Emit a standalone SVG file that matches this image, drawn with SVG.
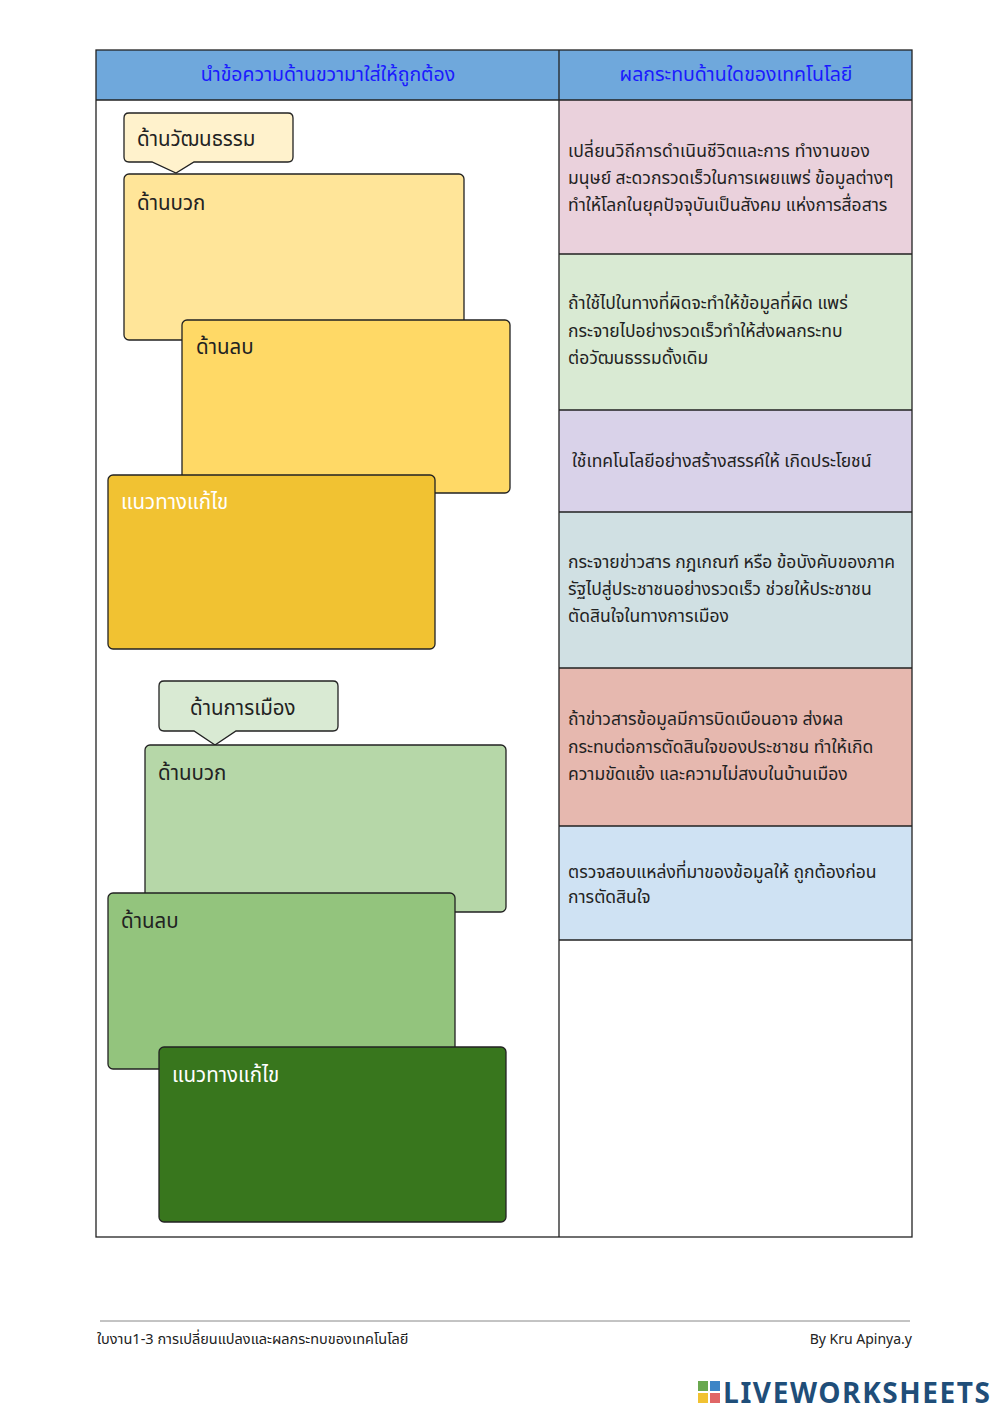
<svg xmlns="http://www.w3.org/2000/svg" width="1000" height="1413" viewBox="0 0 1000 1413">
<style>
text{font-family:"Noto Sans Thai","Noto Sans","Liberation Sans",sans-serif}
.hd{fill:#1a1aff;font-size:19.5px;text-anchor:middle}
.bx{stroke:#222;stroke-width:1.3}
.lb{font-size:20.5px;fill:#222}
.lw{font-size:20.5px;fill:#fff}
.rt{font-size:17.5px;fill:#222}
.ln{stroke:#222;stroke-width:1.3;fill:none}
</style>
<rect width="1000" height="1413" fill="#fff"/>
<g id="table">
<rect x="96" y="50" width="816" height="50" fill="#6fa8dc"/>
<rect x="559" y="100" width="353" height="154" fill="#ead1dc"/>
<rect x="559" y="254" width="353" height="156" fill="#d9ead3"/>
<rect x="559" y="410" width="353" height="102" fill="#d9d2e9"/>
<rect x="559" y="512" width="353" height="156" fill="#d0e0e3"/>
<rect x="559" y="668" width="353" height="158" fill="#e6b8af"/>
<rect x="559" y="826" width="353" height="114" fill="#cfe2f3"/>
<rect x="96" y="50" width="816" height="1187" class="ln"/>
<path class="ln" d="M96 100H912M559 50V1237M559 254H912M559 410H912M559 512H912M559 668H912M559 826H912M559 940H912"/>
<text class="hd" x="328" y="81">นำข้อความด้านขวามาใส่ให้ถูกต้อง</text>
<text class="hd" x="736" y="81">ผลกระทบด้านใดของเทคโนโลยี</text>
</g>
<g id="right-texts">
<text class="rt" x="568" y="157" textLength="302">เปลี่ยนวิถีการดำเนินชีวิตและการ ทำงานของ</text>
<text class="rt" x="568" y="184">มนุษย์ สะดวกรวดเร็วในการเผยแพร่ ข้อมูลต่างๆ</text>
<text class="rt" x="568" y="211">ทำให้โลกในยุคปัจจุบันเป็นสังคม แห่งการสื่อสาร</text>
<text class="rt" x="568" y="309">ถ้าใช้ไปในทางที่ผิดจะทำให้ข้อมูลที่ผิด แพร่</text>
<text class="rt" x="568" y="337">กระจายไปอย่างรวดเร็วทำให้ส่งผลกระทบ</text>
<text class="rt" x="568" y="364">ต่อวัฒนธรรมดั้งเดิม</text>
<text class="rt" x="572" y="467">ใช้เทคโนโลยีอย่างสร้างสรรค์ให้ เกิดประโยชน์</text>
<text class="rt" x="568" y="568">กระจายข่าวสาร กฎเกณฑ์ หรือ ข้อบังคับของภาค</text>
<text class="rt" x="568" y="595">รัฐไปสู่ประชาชนอย่างรวดเร็ว ช่วยให้ประชาชน</text>
<text class="rt" x="568" y="622">ตัดสินใจในทางการเมือง</text>
<text class="rt" x="568" y="725">ถ้าข่าวสารข้อมูลมีการบิดเบือนอาจ ส่งผล</text>
<text class="rt" x="568" y="753">กระทบต่อการตัดสินใจของประชาชน ทำให้เกิด</text>
<text class="rt" x="568" y="780">ความขัดแย้ง และความไม่สงบในบ้านเมือง</text>
<text class="rt" x="568" y="878">ตรวจสอบแหล่งที่มาของข้อมูลให้ ถูกต้องก่อน</text>
<text class="rt" x="568" y="903">การตัดสินใจ</text>
</g>
<g id="culture-callout">
<path class="bx" fill="#fff2cc" d="M129 113H288Q293 113 293 118V157Q293 162 288 162H194L176 173L152 162H129Q124 162 124 157V118Q124 113 129 113Z"/>
<text class="lb" x="137" y="146">ด้านวัฒนธรรม</text>
</g>
<g id="culture-pos">
<rect class="bx" x="124" y="174" width="340" height="166" rx="5" fill="#ffe599"/>
<text class="lb" x="137" y="210">ด้านบวก</text>
</g>
<g id="culture-neg">
<rect class="bx" x="182" y="320" width="328" height="173" rx="5" fill="#ffd966"/>
<text class="lb" x="196" y="354">ด้านลบ</text>
</g>
<g id="culture-sol">
<rect class="bx" x="108" y="475" width="327" height="174" rx="5" fill="#f1c232"/>
<text class="lw" x="121" y="509">แนวทางแก้ไข</text>
</g>
<g id="politics-callout">
<path class="bx" fill="#d9ead3" d="M164 681H333Q338 681 338 686V726Q338 731 333 731H236L215 745L194 731H164Q159 731 159 726V686Q159 681 164 681Z"/>
<text class="lb" x="190" y="715">ด้านการเมือง</text>
</g>
<g id="politics-pos">
<rect class="bx" x="145" y="745" width="361" height="167" rx="5" fill="#b6d7a8"/>
<text class="lb" x="158" y="780">ด้านบวก</text>
</g>
<g id="politics-neg">
<rect class="bx" x="108" y="893" width="347" height="176" rx="5" fill="#93c47d"/>
<text class="lb" x="121" y="928">ด้านลบ</text>
</g>
<g id="politics-sol">
<rect class="bx" x="159" y="1047" width="347" height="175" rx="5" fill="#38761d"/>
<text class="lw" x="172" y="1082">แนวทางแก้ไข</text>
</g>
<g id="footer">
<line x1="100" y1="1321" x2="910" y2="1321" stroke="#888" stroke-width="1"/>
<text x="97" y="1344" font-size="14.5" fill="#222">ใบงาน1-3 การเปลี่ยนแปลงและผลกระทบของเทคโนโลยี</text>
<text x="912" y="1344" font-size="14" fill="#222" text-anchor="end">By  Kru Apinya.y</text>
<rect x="698" y="1381" width="10" height="10" fill="#6aa84f"/>
<rect x="710" y="1381" width="10" height="10" fill="#3d85c6"/>
<rect x="698" y="1393" width="10" height="10" fill="#f1c232"/>
<rect x="710" y="1393" width="10" height="10" fill="#e06666"/>
<text x="723" y="1403" font-size="28" font-weight="bold" fill="#1f4e79" textLength="267" font-family="Liberation Sans,sans-serif">LIVEWORKSHEETS</text>
</g>
</svg>
